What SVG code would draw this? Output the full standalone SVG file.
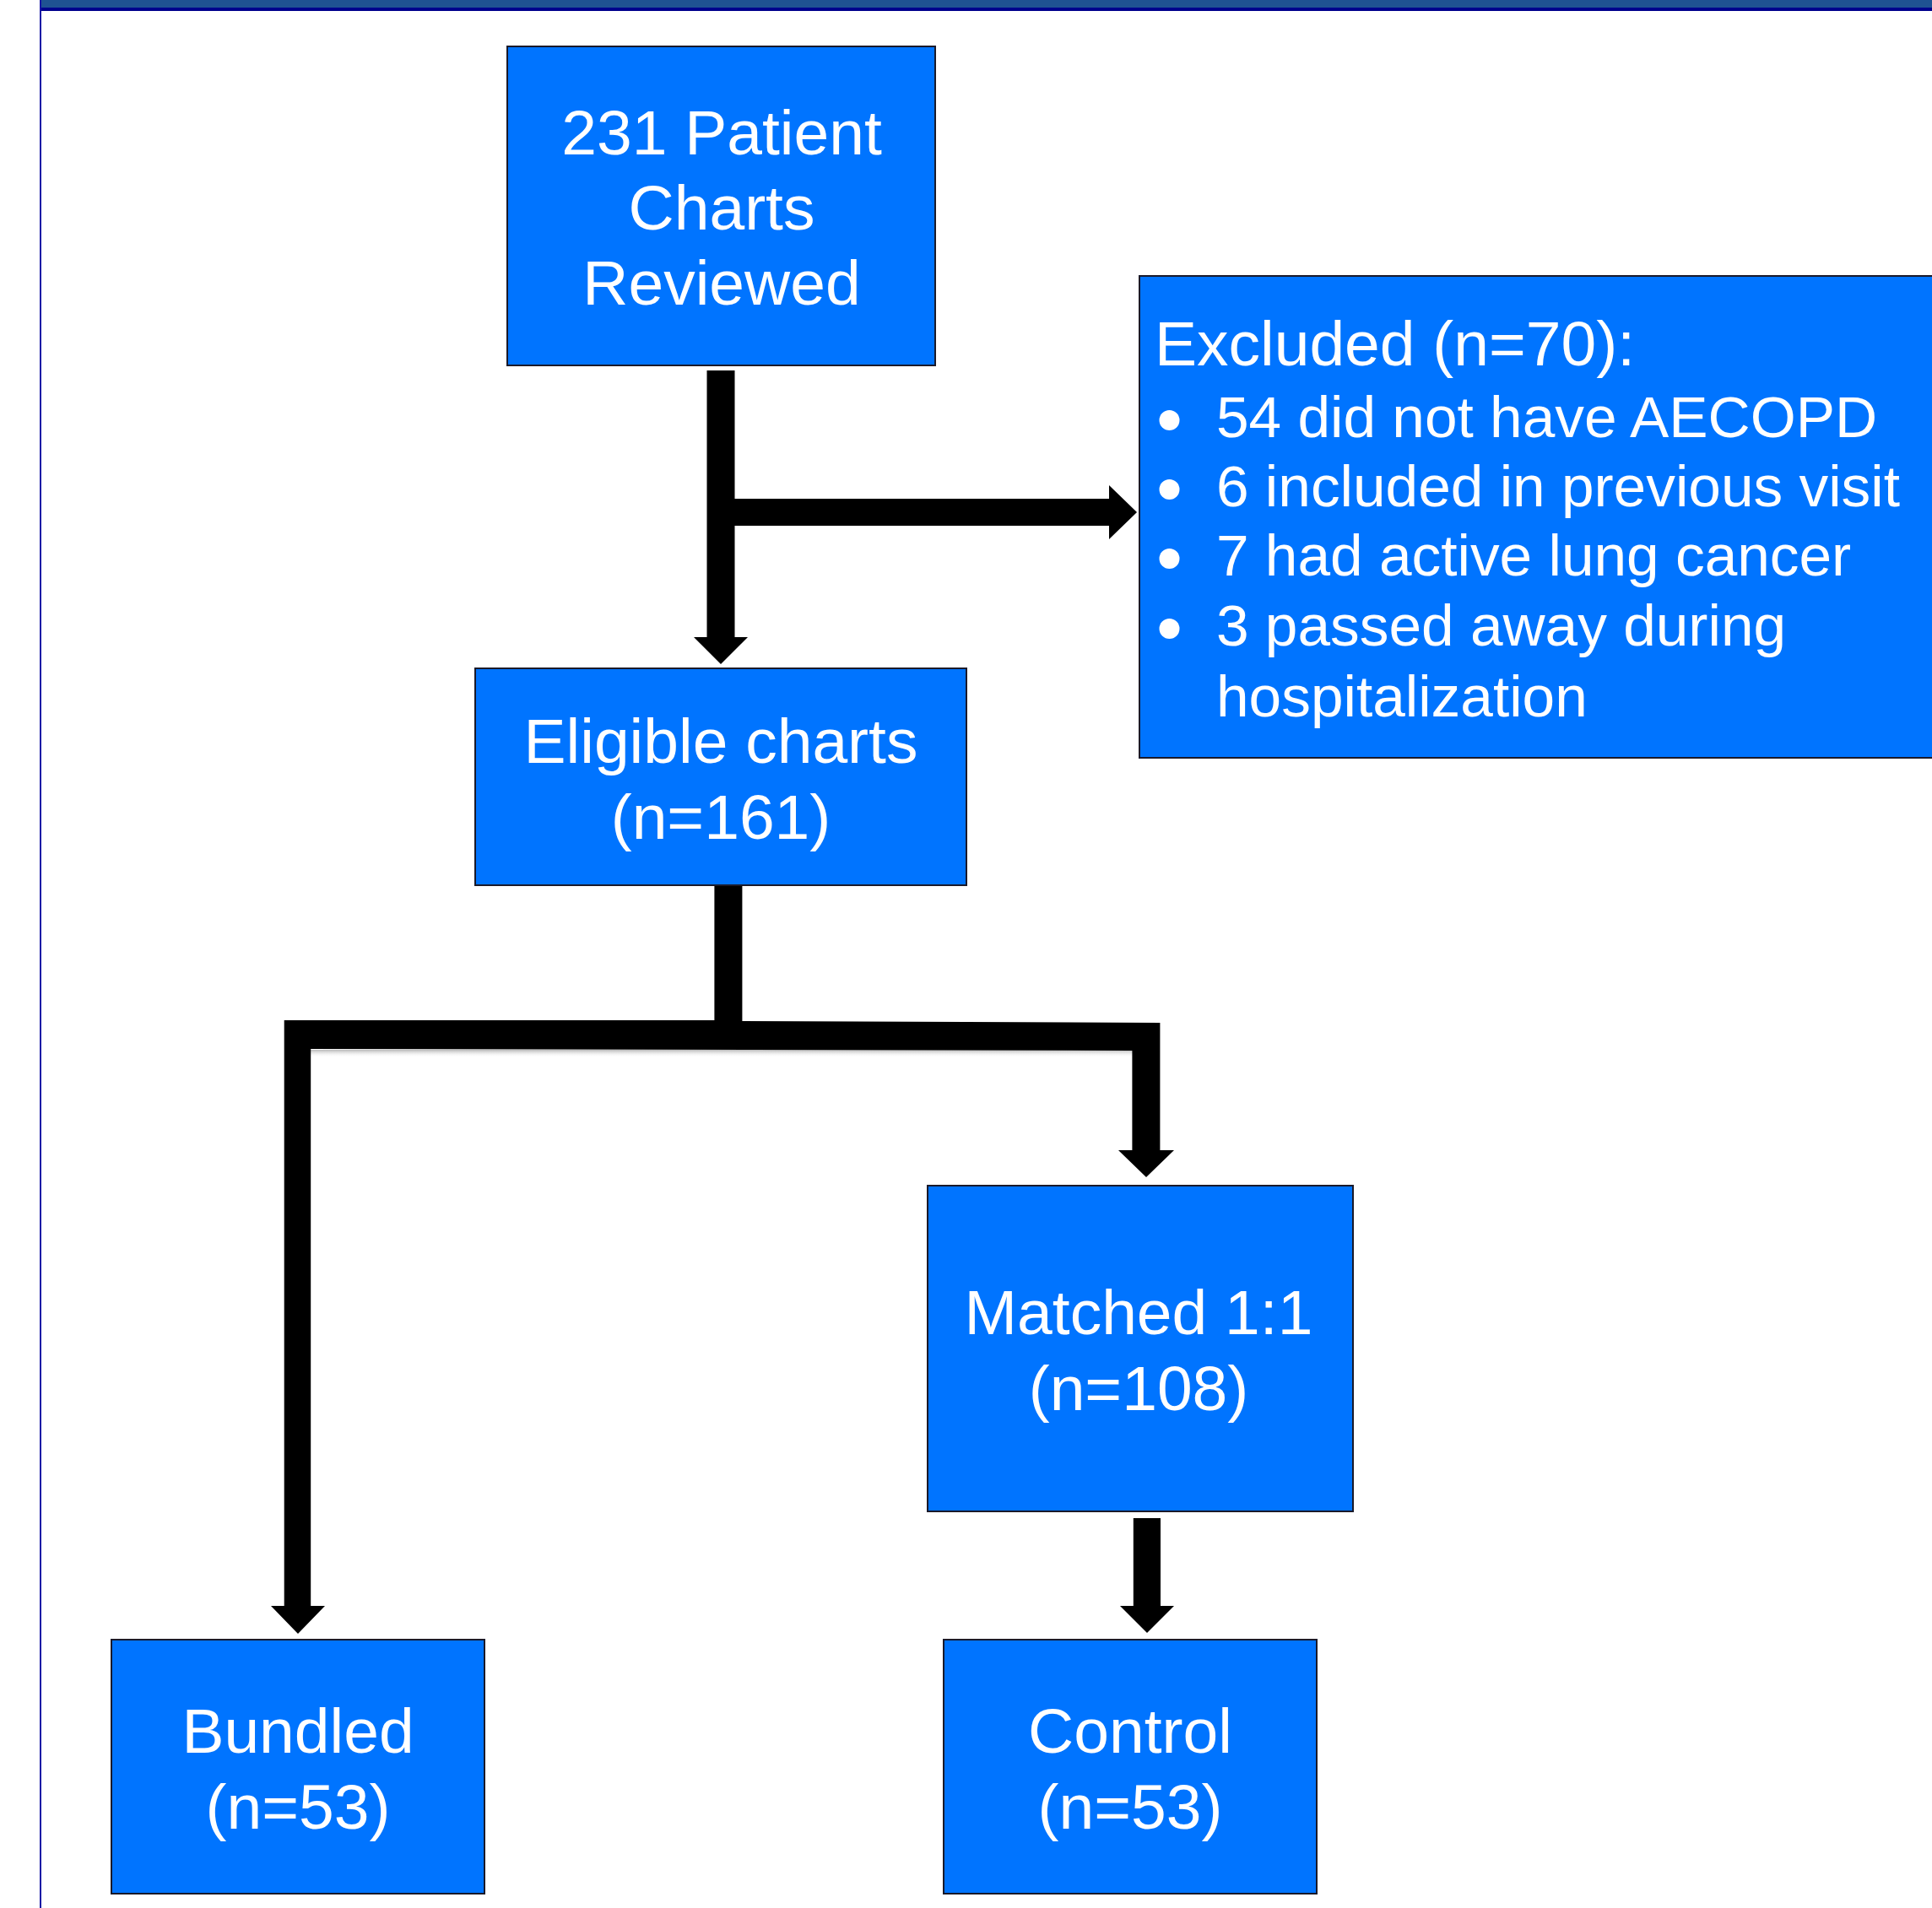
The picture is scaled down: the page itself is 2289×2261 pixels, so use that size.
<svg xmlns="http://www.w3.org/2000/svg" width="2289" height="2261" viewBox="0 0 2289 2261">
<defs>
<style>
.box{fill:#0074FF;stroke:#1a1a2a;stroke-width:2}
.t{font-family:"Liberation Sans",Arial,Helvetica,sans-serif;font-size:75px;fill:#ffffff;text-anchor:middle}
.tl{font-family:"Liberation Sans",Arial,Helvetica,sans-serif;font-size:69.4px;fill:#ffffff}
.conn{fill:#000000}
</style>
<linearGradient id="sh" x1="0" y1="0" x2="0" y2="1">
<stop offset="0" stop-color="#888888" stop-opacity="0.6"/>
<stop offset="1" stop-color="#ffffff" stop-opacity="0"/>
</linearGradient>
</defs>
<rect x="0" y="0" width="2289" height="2261" fill="#ffffff"/>
<g id="frame">
<rect x="47" y="0" width="2242" height="9" fill="#1F5292"/>
<rect x="47" y="9" width="2242" height="4" fill="#00008C"/>
<rect x="47" y="0" width="2" height="2261" fill="#1515A5"/>
</g>
<g id="connectors">
<path class="conn" d="M837.5,439 H870.5 V591 H1314 V575 L1347,607 L1314,639 V623 H870.5 V755 H886 L854,787 L822,755 H837.5 Z"/>
<rect x="368" y="1244" width="974" height="9" fill="url(#sh)"/>
<path class="conn" d="M846.4,1050 H879.4 V1210 L1374.4,1212 V1363 H1391 L1358,1395 L1325,1363 H1341.4 V1245 L368.2,1243 V1903 H385 L353,1936 L321,1903 H336.7 V1209 H846.4 Z"/>
<path class="conn" d="M1342.8,1799 H1375 V1903 H1391 L1359,1935 L1327,1903 H1342.8 Z"/>
</g>
<g id="node-reviewed">
<rect class="box" x="601" y="55" width="507" height="378"/>
<text class="t" x="855" y="183">231 Patient</text>
<text class="t" x="855" y="272">Charts</text>
<text class="t" x="855" y="361">Reviewed</text>
</g>
<g id="node-excluded">
<rect class="box" x="1350" y="327" width="1000" height="571"/>
<text class="tl" x="1368" y="433" style="font-size:75px">Excluded (n=70):</text>
<circle cx="1385.5" cy="498" r="12" fill="#ffffff"/>
<circle cx="1385.5" cy="580" r="12" fill="#ffffff"/>
<circle cx="1385.5" cy="662" r="12" fill="#ffffff"/>
<circle cx="1385.5" cy="745" r="12" fill="#ffffff"/>
<text class="tl" x="1441" y="518">54 did not have AECOPD</text>
<text class="tl" x="1441" y="600">6 included in previous visit</text>
<text class="tl" x="1441" y="682">7 had active lung cancer</text>
<text class="tl" x="1441" y="765">3 passed away during</text>
<text class="tl" x="1441" y="849">hospitalization</text>
</g>
<g id="node-eligible">
<rect class="box" x="563" y="792" width="582" height="257"/>
<text class="t" x="854" y="904">Eligible charts</text>
<text class="t" x="854" y="994">(n=161)</text>
</g>
<g id="node-matched">
<rect class="box" x="1099" y="1405" width="504" height="386"/>
<text class="t" x="1349" y="1581">Matched 1:1</text>
<text class="t" x="1349" y="1671">(n=108)</text>
</g>
<g id="node-bundled">
<rect class="box" x="132" y="1943" width="442" height="301"/>
<text class="t" x="353" y="2077">Bundled</text>
<text class="t" x="353" y="2167">(n=53)</text>
</g>
<g id="node-control">
<rect class="box" x="1118" y="1943" width="442" height="301"/>
<text class="t" x="1339" y="2077">Control</text>
<text class="t" x="1339" y="2167">(n=53)</text>
</g>
</svg>
